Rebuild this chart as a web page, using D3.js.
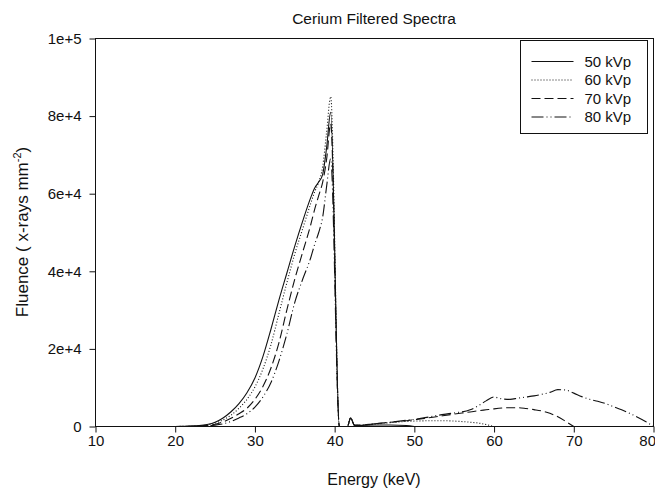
<!DOCTYPE html>
<html>
<head>
<meta charset="utf-8">
<script src="https://cdn.jsdelivr.net/npm/d3@7"></script>
<style>
  body { margin: 0; background: #fff; }
  svg { font-family: "Liberation Sans", Arial, sans-serif; }
</style>
</head>
<body>
<div id="chart"></div>
<script>
// Series data (keV, x-rays per mm^2)
var seriesNames = ["50 kVp", "60 kVp", "70 kVp", "80 kVp"];

// Shared energy grid for the low part of the spectrum (up to the K-edge and small bump)
var riseEnergy = [10, 14, 18, 20, 21, 22, 23, 24, 25, 26, 27, 28, 29, 30, 31, 32, 33, 34, 35, 36,
                  37, 37.5, 38, 38.5, 39, 39.5, 40.6, 41.6, 42, 42.5, 43];
var rise50 = [0, 0, 0, 15, 40, 90, 230, 520, 1100, 2200, 3800, 5900, 8700, 12500, 18000, 25000, 32500, 39500, 46500, 53000,
              59000, 61500, 63000, 65000, 72000, 81000, 0, 0, 2200, 300, 300];
var rise60 = [0, 0, 0, 10, 30, 70, 170, 400, 850, 1700, 2900, 4700, 7000, 10200, 14800, 21000, 29000, 37000, 44500, 51000,
              57500, 60500, 63000, 67000, 76000, 85000, 0, 0, 2200, 300, 300];
var rise70 = [0, 0, 0, 5, 20, 50, 120, 280, 600, 1200, 2100, 3300, 4700, 7000, 10300, 15000, 21500, 30000, 38000, 45000,
              52000, 56000, 59500, 63000, 69000, 78000, 0, 0, 2200, 300, 300];
var rise80 = [0, 0, 0, 3, 10, 30, 70, 160, 350, 700, 1300, 2200, 3300, 5000, 7600, 11300, 16800, 23800, 32000, 38000,
              43500, 47000, 50000, 54000, 62000, 69000, 0, 0, 2200, 300, 300];

// High-energy tails (null = past the tube voltage)
var tailEnergy = [45, 47, 49, 50, 51, 53, 55, 57, 58, 59, 60, 61, 62, 63, 64, 65, 66, 67, 68, 69,
                  70, 71, 72, 73, 74, 75, 76, 77, 78, 79, 80];
var tail50 = [400, 400, 250, 0, null, null, null, null, null, null, null, null, null, null, null, null, null, null, null, null,
              null, null, null, null, null, null, null, null, null, null, null];
var tail60 = [600, 1000, 1300, 1400, 1450, 1500, 1400, 1100, 900, 500, 0, null, null, null, null, null, null, null, null, null,
              null, null, null, null, null, null, null, null, null, null, null];
var tail70 = [700, 1100, 1500, 1750, 2000, 2600, 3200, 3750, 4050, 4300, 4550, 4750, 4850, 4850, 4650, 4350, 4000, 3400, 2500, 1300,
              0, null, null, null, null, null, null, null, null, null, null];
var tail80 = [700, 1100, 1600, 1850, 2150, 2900, 3500, 4300, 5300, 6600, 7600, 7100, 7000, 7300, 7600, 7900, 8300, 8800, 9500, 9400,
              8600, 7700, 7000, 6500, 5900, 5100, 4300, 3400, 2400, 1300, 0];

var xTicks = [10, 20, 30, 40, 50, 60, 70, 80];
var yTicks = [0, 20000, 40000, 60000, 80000, 100000];

var dashes = ["none", "1,2", "9,4", "12,3,1,3,1,3"];

// layout
var W = 655, H = 489;
var margin = { top: 38, right: 2, bottom: 63, left: 95 };
var width = W - margin.left - margin.right;
var height = H - margin.top - margin.bottom;

var x = d3.scaleLinear().domain([10, 80]).range([0, width]);
var y = d3.scaleLinear().domain([0, 100000]).range([height, 0]);

// join rise + tail into one point list per series
function build(rise, tail) {
  var pts = riseEnergy.map(function(e, i) { return { e: e, v: rise[i] }; });
  tailEnergy.forEach(function(e, i) { if (tail[i] !== null) pts.push({ e: e, v: tail[i] }); });
  return pts;
}
var series = [build(rise50, tail50), build(rise60, tail60), build(rise70, tail70), build(rise80, tail80)];

var svg = d3.select("#chart").append("svg")
  .attr("width", W)
  .attr("height", H);

var g = svg.append("g")
  .attr("transform", "translate(" + (margin.left + 0.5) + "," + (margin.top + 0.5) + ")");

// title
svg.append("text")
  .attr("x", margin.left + width / 2)
  .attr("y", 24)
  .attr("text-anchor", "middle")
  .attr("font-size", 15.5)
  .attr("fill", "#111")
  .text("Cerium Filtered Spectra");

// lines
var line = d3.line()
  .x(function(d) { return x(d.e); })
  .y(function(d) { return y(d.v); })
  .curve(d3.curveMonotoneX);

g.selectAll("path.spec")
  .data(series)
  .enter()
  .append("path")
  .attr("class", "spec")
  .attr("d", line)
  .attr("fill", "none")
  .attr("stroke", "#111")
  .attr("stroke-width", 1.1)
  .attr("stroke-dasharray", function(d, i) { return dashes[i]; });

// axes
var xAxis = g.append("g")
  .attr("transform", "translate(0," + height + ")")
  .call(d3.axisBottom(x).tickValues(xTicks).tickSize(6).tickSizeOuter(0).tickPadding(3));
var yAxis = g.append("g")
  .call(d3.axisLeft(y).tickValues(yTicks).tickSize(6).tickSizeOuter(0).tickPadding(8)
    .tickFormat(function(d) { return d === 0 ? "0" : d3.format(".0e")(d); }));

[xAxis, yAxis].forEach(function(a) {
  a.select(".domain").remove();
  a.selectAll("text").attr("font-size", 15).attr("fill", "#111").attr("font-family", "Liberation Sans, Arial, sans-serif");
  a.selectAll("line").attr("stroke", "#111");
});

// keep the last x label inside the window
xAxis.selectAll(".tick text")
  .filter(function(d) { return d === 80; })
  .attr("text-anchor", "end")
  .attr("x", 2);

// frame
g.append("rect")
  .attr("x", 0)
  .attr("y", 0)
  .attr("width", width)
  .attr("height", height)
  .attr("fill", "none")
  .attr("stroke", "#111");

// axis titles
svg.append("text")
  .attr("x", margin.left + width / 2)
  .attr("y", 485)
  .attr("text-anchor", "middle")
  .attr("font-size", 16)
  .attr("fill", "#111")
  .text("Energy (keV)");

var yl = svg.append("text")
  .attr("transform", "translate(28," + (margin.top + height / 2) + ") rotate(-90)")
  .attr("text-anchor", "middle")
  .attr("font-size", 17)
  .attr("fill", "#111");
yl.append("tspan").text("Fluence ( x-rays mm");
yl.append("tspan").attr("dy", -7).attr("font-size", 11).text("-2");
yl.append("tspan").attr("dy", 7).text(")");

// legend
var lg = svg.append("g").attr("transform", "translate(520.5,40.5)");
lg.append("rect")
  .attr("width", 127)
  .attr("height", 93)
  .attr("fill", "#fff")
  .attr("stroke", "#111");
seriesNames.forEach(function(name, i) {
  var ly = 21 + i * 18.5;
  lg.append("line")
    .attr("x1", 11).attr("x2", 53)
    .attr("y1", ly).attr("y2", ly)
    .attr("stroke", "#111")
    .attr("stroke-dasharray", dashes[i]);
  lg.append("text")
    .attr("x", 64)
    .attr("y", ly)
    .attr("dy", "0.35em")
    .attr("font-size", 15)
    .attr("fill", "#111")
    .text(name);
});
</script>
</body>
</html>
